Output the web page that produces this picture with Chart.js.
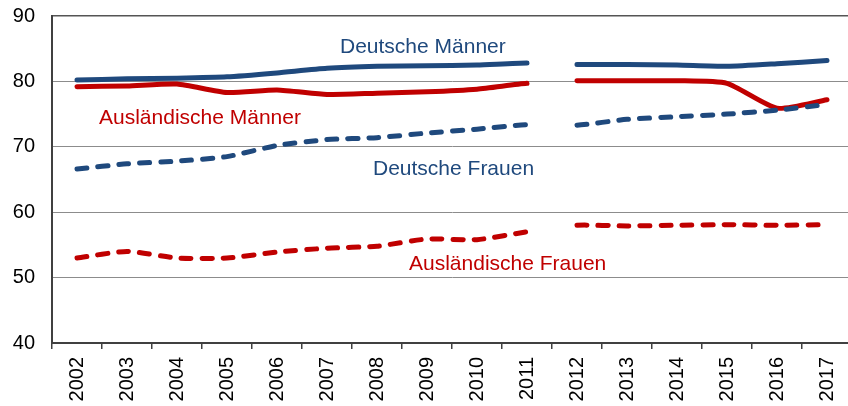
<!DOCTYPE html>
<html>
<head>
<meta charset="utf-8">
<script src="https://cdn.jsdelivr.net/npm/chart.js@4/dist/chart.umd.min.js"></script>
<style>
  html, body { margin: 0; padding: 0; background: #fff; overflow: hidden; }
  #myChart { display: block; }
</style>
</head>
<body>
<canvas id="myChart" width="852" height="406"></canvas>
<script>
var years = ['2002','2003','2004','2005','2006','2007','2008','2009','2010','2011',
             '2012','2013','2014','2015','2016','2017'];

var deutscheMaenner = [80.2, 80.4, 80.5, 80.7, 81.3, 82.0, 82.3, 82.4, 82.5, 82.8, 82.6, 82.6, 82.5, 82.3, 82.7, 83.2];
var auslMaenner     = [79.2, 79.3, 79.6, 78.3, 78.7, 78.0, 78.2, 78.4, 78.8, 79.7, 80.1, 80.1, 80.1, 79.7, 75.9, 77.2];
var deutscheFrauen  = [66.6, 67.4, 67.8, 68.5, 70.2, 71.1, 71.4, 72.1, 72.7, 73.4, 73.3, 74.2, 74.6, 75.0, 75.6, 76.5];
var auslFrauen      = [53.0, 54.0, 53.0, 53.0, 53.9, 54.5, 54.8, 55.9, 55.8, 57.0, 58.0, 57.9, 58.0, 58.1, 58.0, 58.1];

var yTicks = [40, 50, 60, 70, 80, 90];

// the segment 2011 -> 2012 is not drawn (break in the series)
var breakAfter = '2011';

var BLUE = '#1F497D';
var RED = '#C00000';

// annotation labels: category index (left edge) and value (vertical middle)
var annotations = [
    { text: 'Deutsche Männer',     x: 5.26, y: 85.3, color: BLUE },
    { text: 'Ausländische Männer', x: 0.44, y: 74.4, color: RED },
    { text: 'Deutsche Frauen',     x: 5.92, y: 66.5, color: BLUE },
    { text: 'Ausländische Frauen', x: 6.64, y: 52.0, color: RED }
];

var labelPlugin = {
    id: 'seriesLabels',
    afterDatasetsDraw: function(chart) {
        var c = chart.ctx, xs = chart.scales.x, ys = chart.scales.y;
        c.save();
        c.font = '21px "Liberation Sans", Arial, sans-serif';
        c.textAlign = 'left';
        c.textBaseline = 'middle';
        annotations.forEach(function(a) {
            c.fillStyle = a.color;
            c.fillText(a.text, xs.getPixelForValue(a.x), ys.getPixelForValue(a.y));
        });
        c.restore();
    }
};

var breakIndex = years.indexOf(breakAfter);

function series(data, color, dashed) {
    return {
        data: data,
        borderColor: color,
        backgroundColor: color,
        borderWidth: 5,
        borderCapStyle: 'round',
        borderJoinStyle: 'round',
        borderDash: dashed ? [10, 11] : [],
        pointRadius: 0,
        pointHoverRadius: 0,
        tension: 0.2,
        fill: false,
        segment: {
            borderColor: function(s) { return s.p0DataIndex === breakIndex ? 'rgba(0,0,0,0)' : undefined; }
        }
    };
}

var ctx = document.getElementById('myChart').getContext('2d');

var graphData = {
    type: 'line',
    data: {
        labels: years,
        datasets: [
            series(auslFrauen, RED, true),
            series(deutscheFrauen, BLUE, true),
            series(auslMaenner, RED, false),
            series(deutscheMaenner, BLUE, false)
        ]
    },
    options: {
        responsive: false,
        animation: false,
        devicePixelRatio: 1,
        layout: { padding: { top: 16, right: 0, left: 0, bottom: 0 } },
        plugins: {
            legend: { display: false },
            tooltip: { enabled: false }
        },
        scales: {
            x: {
                offset: true,
                grid: {
                    offset: true,
                    drawOnChartArea: false,
                    drawTicks: true,
                    tickLength: 6,
                    color: '#404040',
                    lineWidth: 1.5
                },
                border: { display: true, color: '#404040', width: 2 },
                ticks: {
                    minRotation: 90,
                    maxRotation: 90,
                    autoSkip: false,
                    padding: 8,
                    color: '#000',
                    font: { family: '"Liberation Sans", Arial, sans-serif', size: 20 }
                },
                afterFit: function(scale) {
                    scale.height = 63;
                    scale.paddingLeft = 0;
                    scale.paddingRight = 0;
                }
            },
            y: {
                min: 40,
                max: 90,
                afterBuildTicks: function(scale) {
                    scale.ticks = yTicks.map(function(v) { return { value: v }; });
                },
                grid: {
                    drawTicks: false,
                    color: function(c) { return c.tick && c.tick.value === 90 ? '#555555' : '#8c8c8c'; },
                    lineWidth: function(c) { return c.tick && c.tick.value === 90 ? 1.5 : 1; }
                },
                border: { display: true, color: '#404040', width: 2 },
                ticks: {
                    padding: 17,
                    color: '#000',
                    font: { family: '"Liberation Sans", Arial, sans-serif', size: 20 }
                },
                afterFit: function(scale) {
                    scale.width = 52;
                    scale.paddingTop = 0;
                    scale.paddingBottom = 0;
                }
            }
        }
    },
    plugins: [labelPlugin]
};

var myChart = new Chart(ctx, graphData);
</script>
</body>
</html>
